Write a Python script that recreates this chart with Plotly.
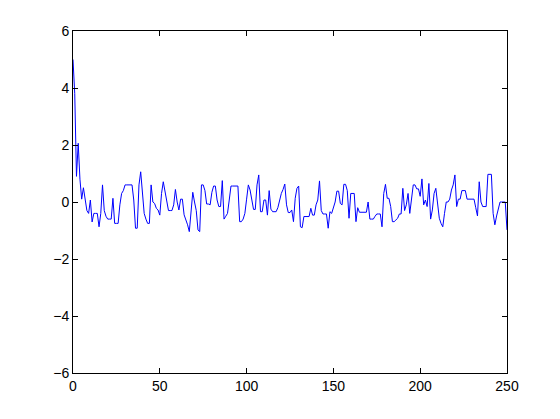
import plotly.graph_objects as go

x_values = list(range(251))
y_values = [
    5.0, 3.8, 0.9, 2.06, 0.8, 0.1, 0.5, 0.07, -0.3, -0.4,
    0.07, -0.7, -0.4, -0.4, -0.4, -0.87, -0.4, 0.6, -0.3, -0.5,
    -0.6, -0.6, -0.6, 0.13, -0.75, -0.75, -0.75, -0.1, 0.3, 0.4,
    0.6, 0.6, 0.6, 0.6, 0.6, 0.07, -0.92, -0.92, 0.6, 1.06,
    0.3, -0.4, -0.6, -0.75, -0.75, 0.6, 0.0, -0.05, -0.22, -0.28,
    -0.46, 0.3, 0.71, 0.36, 0.13, -0.3, -0.3, -0.3, -0.1, 0.44,
    0.0, -0.28, 0.1, 0.1, -0.45, -0.6, -0.8, -1.04, -0.4, 0.34,
    0.0, -0.3, -0.98, -1.04, 0.6, 0.6, 0.4, -0.07, -0.07, -0.1,
    0.34, 0.56, 0.56, 0.07, -0.16, -0.16, 0.75, -0.6, -0.5, -0.4,
    0.07, 0.56, 0.56, 0.56, 0.56, 0.56, -0.69, -0.69, -0.6, -0.4,
    0.1, 0.6, 0.42, 0.0, -0.26, -0.26, 0.6, 0.95, -0.34, -0.34,
    0.07, 0.07, -0.46, 0.4, -0.25, -0.34, -0.34, -0.34, -0.2, 0.1,
    0.3, 0.44, 0.63, -0.1, -0.37, -0.37, -0.28, -0.69, 0.13, 0.48,
    0.56, -0.87, -0.9, -0.51, -0.51, -0.51, -0.51, -0.22, -0.46, -0.46,
    -0.1, 0.07, 0.74, -0.3, -0.42, -0.42, -0.42, -0.92, -0.34, -0.4,
    -0.16, 0.0, 0.38, 0.38, -0.05, -0.1, 0.62, 0.62, 0.4, -0.57,
    0.3, 0.3, 0.3, -0.69, -0.2, -0.36, -0.36, -0.36, -0.36, -0.36,
    0.0, -0.6, -0.6, -0.6, -0.5, -0.42, -0.42, -0.42, -0.87, 0.3,
    0.62, 0.13, 0.13, -0.16, -0.69, -0.69, -0.63, -0.57, -0.42, -0.42,
    0.48, -0.3, -0.1, 0.3, -0.4, 0.1, 0.6, 0.6, 0.46, 0.46,
    0.2, 0.81, -0.1, 0.07, -0.16, 0.65, -0.6, -0.28, 0.3, 0.48,
    -0.16, -0.57, -0.75, -0.87, -0.4, 0.0, 0.0, 0.1, 0.42, 0.6,
    0.95, -0.16, 0.1, 0.1, 0.4, 0.4, 0.4, 0.1, 0.1, 0.1,
    0.1, 0.1, -0.2, -0.49, 0.71, 0.0, -0.16, -0.16, -0.16, 0.97,
    0.97, 0.97, -0.4, -0.8, -0.49, -0.28, 0.0, 0.0, 0.0, 0.0,
    -0.98,
]
x_ticks = [0, 50, 100, 150, 200, 250]
y_ticks = [-6, -4, -2, 0, 2, 4, 6]

fig = go.Figure()
fig.add_trace(go.Scatter(
    x=x_values, y=y_values, mode="lines",
    line=dict(color="#0000ff", width=1),
    hoverinfo="skip", showlegend=False,
))

axis_common = dict(
    showgrid=False, zeroline=False, showline=True, linecolor="black",
    linewidth=1, mirror="ticks", ticks="inside", ticklen=5,
    tickcolor="black", tickwidth=1,
    tickfont=dict(family="Liberation Sans, Arial, sans-serif", size=14, color="black"),
)
fig.update_xaxes(range=[0, 250], tickvals=x_ticks, **axis_common)
fig.update_yaxes(range=[-6, 6], tickvals=y_ticks, **axis_common)

fig.update_layout(
    width=560, height=419,
    margin=dict(l=65, r=61, t=23, b=54),
    paper_bgcolor="white", plot_bgcolor="white",
)
fig.write_html("out.html")
